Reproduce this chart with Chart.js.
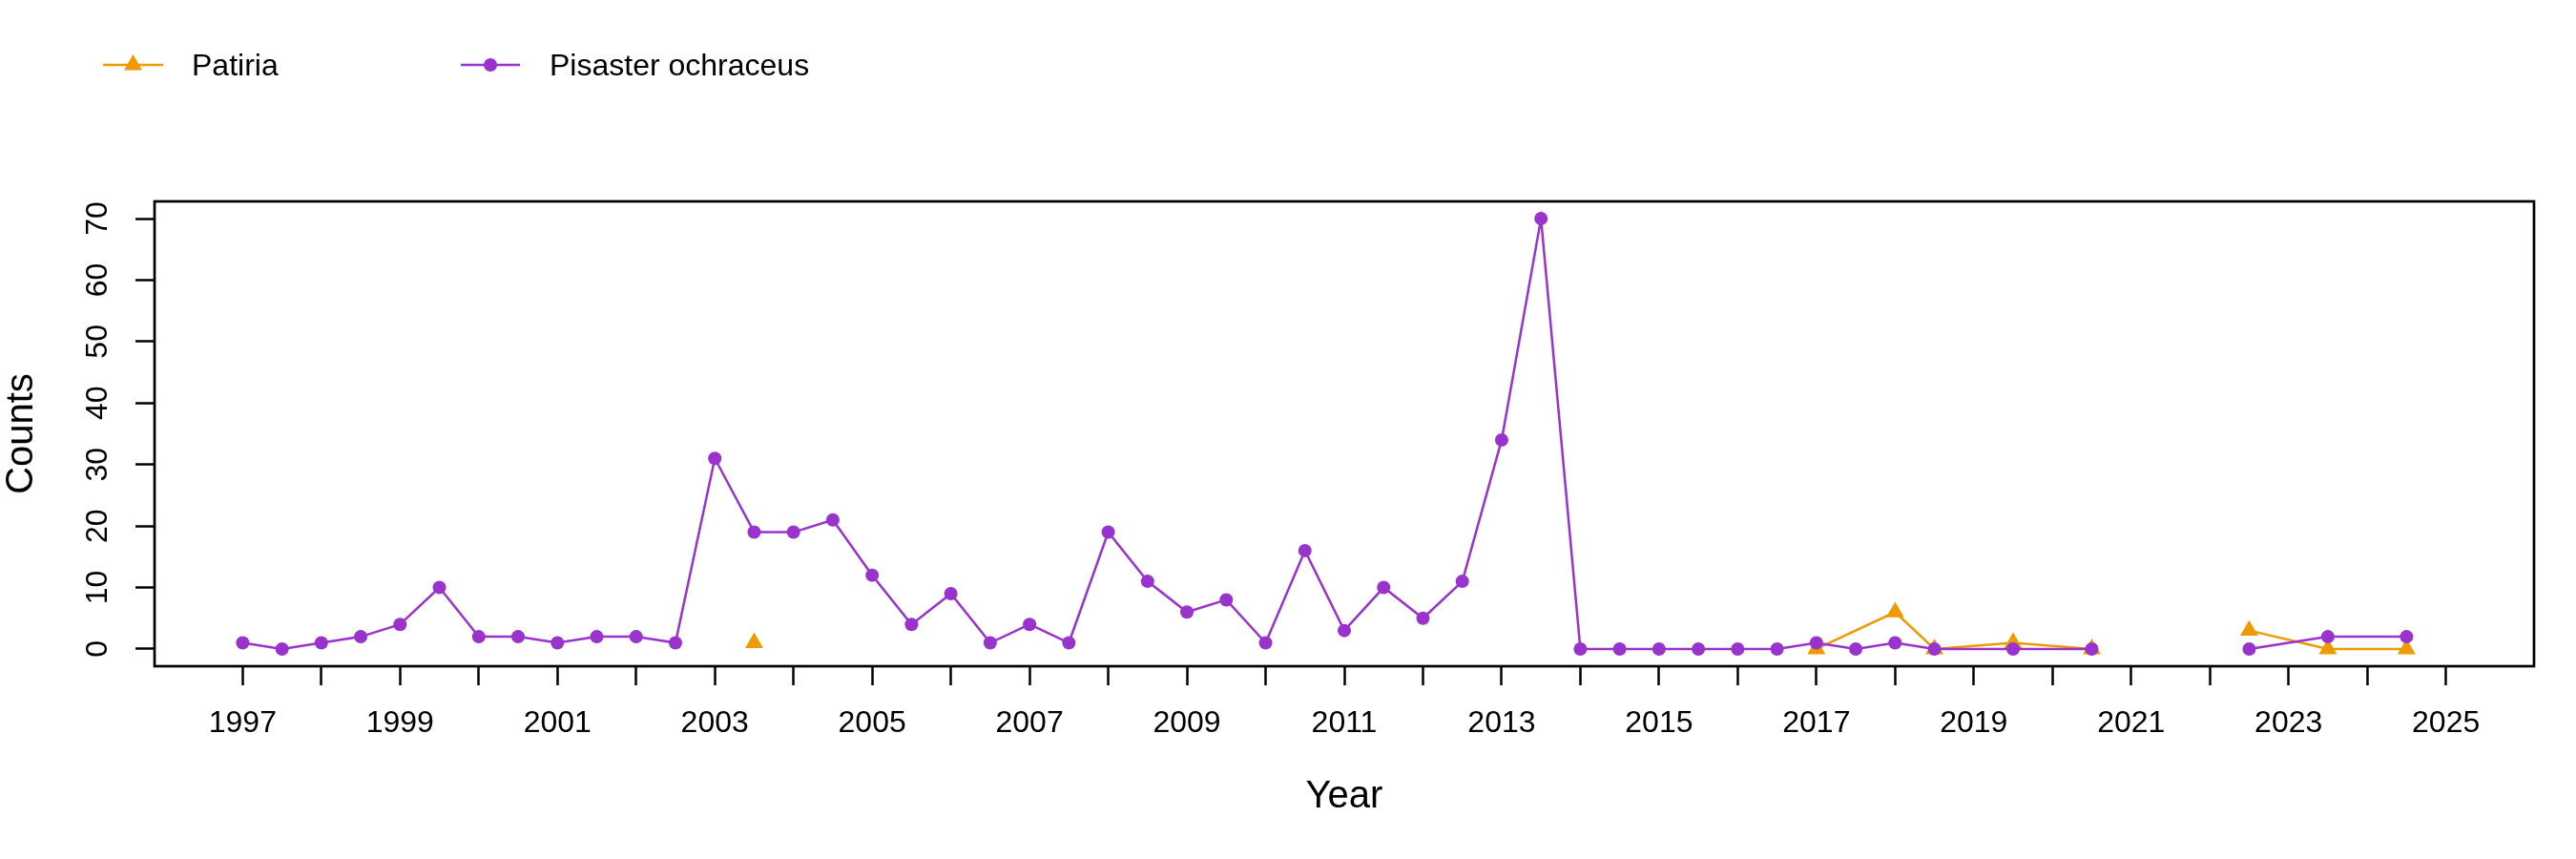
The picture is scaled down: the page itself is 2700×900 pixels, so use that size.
<!DOCTYPE html>
<html>
<head>
<meta charset="utf-8">
<title>Patiria / Pisaster counts</title>
<script src="https://cdn.jsdelivr.net/npm/chart.js"></script>
<style>
  html, body { margin: 0; padding: 0; background: #fff; }
  #wrap { width: 2700px; height: 900px; }
</style>
</head>
<body>
<div id="wrap"><canvas id="countsChart" width="2700" height="900"></canvas></div>
<script>
/*
  Data:
*/
var seriesNames = ['Patiria', 'Pisaster ochraceus'];

// null = gap in the survey (line breaks there)
var patiriaYears  = [2003.5, 2004, 2017, 2018, 2018.5, 2019.5, 2020.5, 2021.5, 2022.5, 2023.5, 2024.5];
var patiriaCounts = [1, null, 0, 6, 0, 1, 0, null, 3, 0, 0];

var pisasterYears = [1997, 1997.5, 1998, 1998.5, 1999, 1999.5, 2000, 2000.5, 2001, 2001.5,
  2002, 2002.5, 2003, 2003.5, 2004, 2004.5, 2005, 2005.5, 2006, 2006.5,
  2007, 2007.5, 2008, 2008.5, 2009, 2009.5, 2010, 2010.5, 2011, 2011.5,
  2012, 2012.5, 2013, 2013.5, 2014, 2014.5, 2015, 2015.5, 2016, 2016.5,
  2017, 2017.5, 2018, 2018.5, 2019.5, 2020.5, 2021.5, 2022.5, 2023.5, 2024.5];
var pisasterCounts = [1, 0, 1, 2, 4, 10, 2, 2, 1, 2,
  2, 1, 31, 19, 19, 21, 12, 4, 9, 1,
  4, 1, 19, 11, 6, 8, 1, 16, 3, 10,
  5, 11, 34, 70, 0, 0, 0, 0, 0, 0,
  1, 0, 1, 0, 0, 0, null, 0, 2, 2];

var xTickYears = [1997, 1998, 1999, 2000, 2001, 2002, 2003, 2004, 2005, 2006, 2007, 2008, 2009, 2010,
  2011, 2012, 2013, 2014, 2015, 2016, 2017, 2018, 2019, 2020, 2021, 2022, 2023, 2024, 2025];
var xTickLabels = ['1997', '1999', '2001', '2003', '2005', '2007', '2009', '2011',
  '2013', '2015', '2017', '2019', '2021', '2023', '2025'];
var yTickValues = [0, 10, 20, 30, 40, 50, 60, 70];

/*
  Styling:
*/
var orange = '#EE9A00';
var purple = '#9A32CD';
var fontFamily = '"Liberation Sans", Arial, sans-serif';

var toPoints = (xs, ys) => xs.map((x, i) => ({x: x, y: ys[i]}));

// box around the plot area, like R's box()
var boxPlugin = {
  id: 'box',
  afterDraw: (chart) => {
    var a = chart.chartArea;
    var ctx = chart.ctx;
    ctx.save();
    ctx.strokeStyle = '#000';
    ctx.lineWidth = 2.7;
    ctx.strokeRect(a.left, a.top, a.right - a.left, a.bottom - a.top);
    ctx.restore();
  }
};

// y tick labels turned 90 degrees (R las=0)
var yLabelPlugin = {
  id: 'yLabels',
  afterDraw: (chart) => {
    var scale = chart.scales.y;
    var ctx = chart.ctx;
    ctx.save();
    ctx.fillStyle = '#000';
    ctx.font = '32px ' + fontFamily;
    ctx.textAlign = 'center';
    ctx.textBaseline = 'middle';
    scale.ticks.forEach(t => {
      var py = scale.getPixelForValue(t.value);
      ctx.save();
      ctx.translate(103, py);
      ctx.rotate(-Math.PI / 2);
      ctx.fillText(String(t.value), 0, 0);
      ctx.restore();
    });
    ctx.restore();
  }
};

// legend across the top
var legendPlugin = {
  id: 'topLegend',
  afterDraw: (chart) => {
    var ctx = chart.ctx;
    var spots = [{x0: 108, x1: 171, tx: 201}, {x0: 483, x1: 545, tx: 576}];
    var y = 68;
    ctx.save();
    chart.data.datasets.forEach((ds, i) => {
      var s = spots[i];
      var cx = (s.x0 + s.x1) / 2;
      ctx.strokeStyle = ds.borderColor;
      ctx.lineWidth = 2.5;
      ctx.beginPath();
      ctx.moveTo(s.x0, y);
      ctx.lineTo(s.x1, y);
      ctx.stroke();
      ctx.fillStyle = ds.pointBackgroundColor;
      ctx.beginPath();
      if (ds.pointStyle === 'triangle') {
        var r = ds.pointRadius;
        ctx.moveTo(cx, y - r);
        ctx.lineTo(cx + r * 0.866, y + r * 0.5);
        ctx.lineTo(cx - r * 0.866, y + r * 0.5);
        ctx.closePath();
      } else {
        ctx.arc(cx, y, ds.pointRadius, 0, Math.PI * 2);
      }
      ctx.fill();
      ctx.fillStyle = '#000';
      ctx.font = '32px ' + fontFamily;
      ctx.textAlign = 'left';
      ctx.textBaseline = 'middle';
      ctx.fillText(ds.label, s.tx, 70);
    });
    ctx.restore();
  }
};

var countsChart = new Chart(document.getElementById('countsChart'), {
  type: 'line',
  data: {
    datasets: [{
      label: seriesNames[0],
      data: toPoints(patiriaYears, patiriaCounts),
      borderColor: orange,
      backgroundColor: orange,
      pointBackgroundColor: orange,
      pointBorderWidth: 0,
      pointStyle: 'triangle',
      pointRadius: 10.9,
      borderWidth: 2.5,
      tension: 0,
      spanGaps: false,
      order: 2
    }, {
      label: seriesNames[1],
      data: toPoints(pisasterYears, pisasterCounts),
      borderColor: purple,
      backgroundColor: purple,
      pointBackgroundColor: purple,
      pointBorderWidth: 0,
      pointStyle: 'circle',
      pointRadius: 7,
      borderWidth: 2.5,
      tension: 0,
      spanGaps: false,
      order: 1
    }]
  },
  options: {
    responsive: false,
    devicePixelRatio: 1,
    animation: false,
    layout: {
      padding: {left: 0, top: 211, right: 44, bottom: 0}
    },
    plugins: {
      legend: {display: false},
      tooltip: {enabled: false}
    },
    scales: {
      x: {
        type: 'linear',
        min: 1995.88,
        max: 2026.12,
        afterBuildTicks: (scale) => {
          scale.ticks = xTickYears.map(v => ({value: v}));
        },
        afterFit: (scale) => {
          scale.height = 202;
        },
        ticks: {
          autoSkip: false,
          maxRotation: 0,
          minRotation: 0,
          padding: 21,
          color: '#000',
          font: {size: 32, family: fontFamily},
          callback: (value) => xTickLabels.indexOf(String(value)) >= 0 ? String(value) : ''
        },
        grid: {
          display: true,
          drawOnChartArea: false,
          drawTicks: true,
          tickLength: 20,
          tickWidth: 2.5,
          tickColor: '#000'
        },
        border: {display: false},
        title: {
          display: true,
          text: 'Year',
          color: '#000',
          font: {size: 40, family: fontFamily},
          padding: {top: 0, bottom: 41}
        }
      },
      y: {
        type: 'linear',
        min: -2.8,
        max: 72.8,
        afterBuildTicks: (scale) => {
          scale.ticks = yTickValues.map(v => ({value: v}));
        },
        afterFit: (scale) => {
          scale.width = 162;
        },
        ticks: {display: false},
        grid: {
          display: true,
          drawOnChartArea: false,
          drawTicks: true,
          tickLength: 20,
          tickWidth: 2.5,
          tickColor: '#000'
        },
        border: {display: false},
        title: {
          display: true,
          text: 'Counts',
          color: '#000',
          font: {size: 40, family: fontFamily},
          padding: {top: -1, bottom: 0}
        }
      }
    }
  },
  plugins: [boxPlugin, yLabelPlugin, legendPlugin]
});
</script>
</body>
</html>
